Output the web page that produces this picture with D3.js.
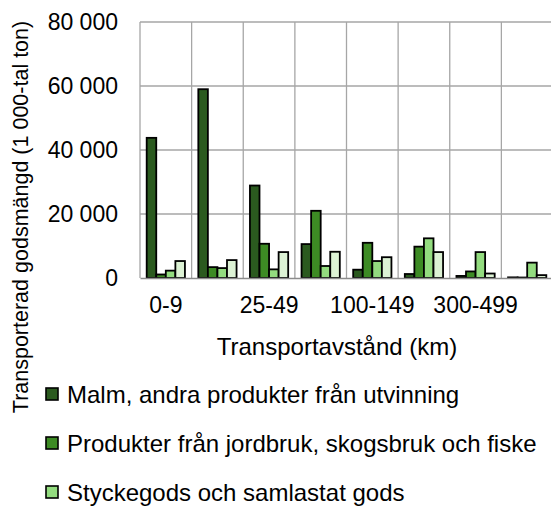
<!DOCTYPE html>
<html>
<head>
<meta charset="utf-8">
<script src="https://cdn.jsdelivr.net/npm/d3@7"></script>
<style>
  body { margin: 0; background: #fff; }
  svg { display: block; }
  svg text { font-family: "Liberation Sans", Arial, sans-serif; }
</style>
</head>
<body>
<div id="main"></div>
<script>
(function(){

  const categories = ['0-9', '10-24', '25-49', '50-99', '100-149', '150-299', '300-499', '500-']
  const shownLabels = ['0-9', '25-49', '100-149', '300-499']
  const seriesNames = [
    'Malm, andra produkter från utvinning',
    'Produkter från jordbruk, skogsbruk och fiske',
    'Styckegods och samlastat gods',
    'Övriga varugrupper'
  ]
  const malm = [43800, 59000, 28900, 10600, 2600, 1250, 650, 200]
  const jordbruk = [1100, 3400, 10700, 21000, 11000, 9800, 2050, 150]
  const stycke = [2300, 3100, 2700, 3750, 5300, 12400, 8100, 4800]
  const ovrigt = [5300, 5600, 8100, 8200, 6500, 8100, 1400, 900]
  const yTicks = [0, 20000, 40000, 60000, 80000]
  const colors = ['#2b5a1f', '#3d8b24', '#93dc7f', '#dcf2d4']

  const width = 551
  const height = 506
  const margin = { top: 22, right: -2, bottom: 228, left: 140 }

  const seriesValues = [malm, jordbruk, stycke, ovrigt]
  const data = categories.map((c, i) => ({
    cat: c,
    values: seriesValues.map((s, j) => ({ key: seriesNames[j], value: s[i], idx: j }))
  }))

  const svg = d3.select('#main').append('svg')
    .attr('width', width)
    .attr('height', height)

  const xScale = d3.scaleBand()
    .domain(categories)
    .range([margin.left, width - margin.right])

  const xInner = d3.scaleBand()
    .domain(seriesNames)
    .range([0, xScale.bandwidth()])
    .paddingOuter(0.7)

  const yScale = d3.scaleLinear()
    .domain([0, 80000])
    .range([height - margin.bottom, margin.top])

  const fmt = v => d3.format(',')(v).replace(/,/g, ' ')

  // grid
  svg.append('g')
    .selectAll('line')
    .data(yTicks.slice(1))
    .join('line')
    .attr('x1', margin.left).attr('x2', width - margin.right)
    .attr('y1', d => yScale(d)).attr('y2', d => yScale(d))
    .attr('stroke', '#a6a6a6').attr('stroke-width', 1.3)

  svg.append('g')
    .selectAll('line')
    .data(categories)
    .join('line')
    .attr('x1', d => xScale(d)).attr('x2', d => xScale(d))
    .attr('y1', margin.top).attr('y2', yScale(0))
    .attr('stroke', '#a6a6a6').attr('stroke-width', 1.3)

  // y axis
  const yAxis = d3.axisLeft(yScale)
    .tickValues(yTicks)
    .tickFormat(fmt)
    .tickSize(0)
    .tickPadding(22)

  svg.append('g')
    .attr('transform', `translate(${margin.left},0)`)
    .attr('font-family', null)
    .call(yAxis)
    .call(g => g.select('.domain').remove())
    .call(g => g.selectAll('text').attr('font-size', 23).attr('fill', '#000'))

  // bars
  svg.append('g')
    .selectAll('g')
    .data(data)
    .join('g')
    .attr('transform', d => `translate(${xScale(d.cat)},0)`)
    .selectAll('rect')
    .data(d => d.values)
    .join('rect')
    .attr('x', d => xInner(d.key))
    .attr('width', xInner.bandwidth())
    .attr('y', d => yScale(d.value))
    .attr('height', d => yScale(0) - yScale(d.value))
    .attr('fill', d => colors[d.idx])
    .attr('stroke', '#000')
    .attr('stroke-width', 1.8)

  // x axis
  const xAxis = d3.axisBottom(xScale)
    .tickValues(shownLabels)
    .tickSize(0)
    .tickPadding(19)

  svg.append('g')
    .attr('transform', `translate(0,${yScale(0)})`)
    .call(xAxis)
    .call(g => g.select('.domain').attr('stroke', '#8c8c8c').attr('stroke-width', 1.6))
    .call(g => g.selectAll('text').attr('font-size', 23).attr('fill', '#000'))

  // axis titles
  svg.append('text')
    .attr('x', 337)
    .attr('y', 355)
    .attr('text-anchor', 'middle')
    .attr('font-size', 24)
    .text('Transportavstånd (km)')

  svg.append('text')
    .attr('transform', 'translate(28,217) rotate(-90)')
    .attr('text-anchor', 'middle')
    .attr('font-size', 21.5)
    .text('Transporterad godsmängd (1 000-tal ton)')

  // legend (fourth entry falls below the visible area in the original)
  const legend = svg.append('g')
    .selectAll('g')
    .data(seriesNames.slice(0, 3))
    .join('g')
    .attr('transform', (d, i) => `translate(46,${394 + i * 49})`)

  legend.append('rect')
    .attr('x', 0).attr('y', -6)
    .attr('width', 12).attr('height', 12)
    .attr('fill', (d, i) => colors[i])
    .attr('stroke', '#000')
    .attr('stroke-width', 1.6)

  legend.append('text')
    .attr('x', 21)
    .attr('y', 9)
    .attr('font-size', 24)
    .text(d => d)
}())
</script>
</body>
</html>
